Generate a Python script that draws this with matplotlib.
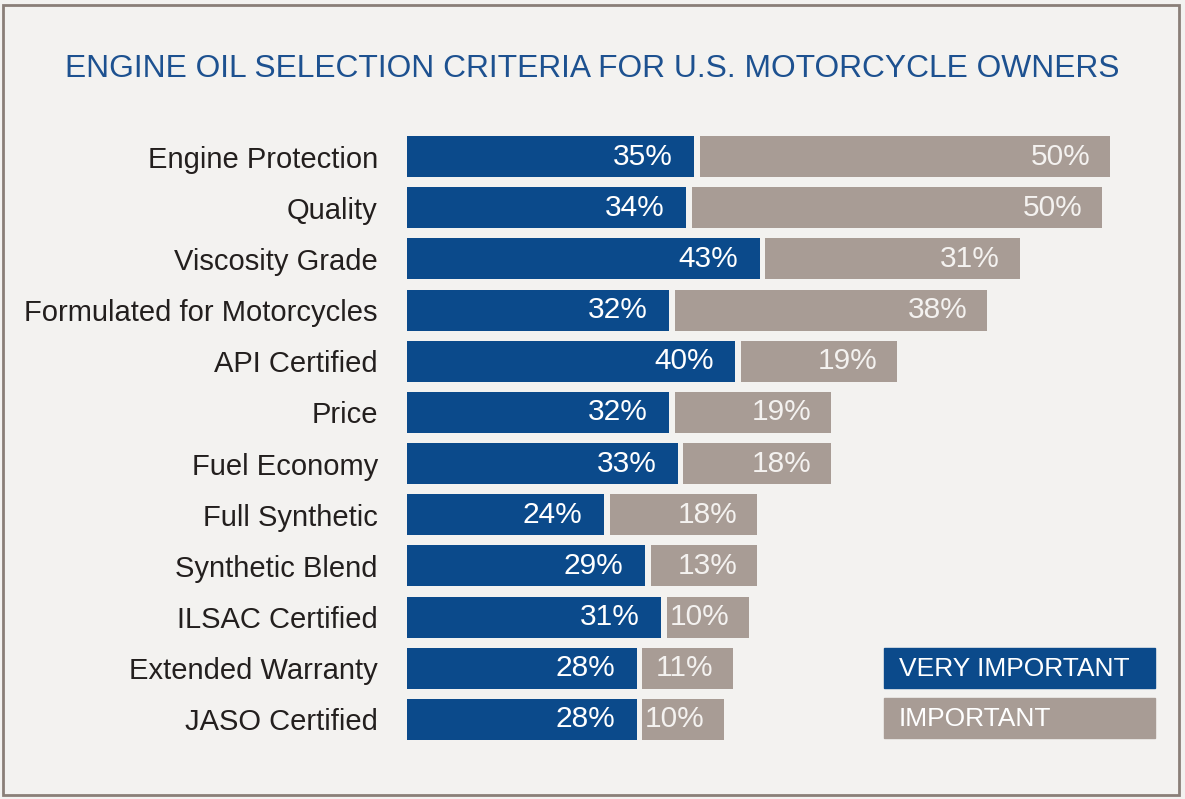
import numpy as np
import matplotlib.pyplot as plt
from matplotlib.patches import Rectangle

criteria = ["Engine Protection", "Quality", "Viscosity Grade",
            "Formulated for Motorcycles", "API Certified", "Price",
            "Fuel Economy", "Full Synthetic", "Synthetic Blend",
            "ILSAC Certified", "Extended Warranty", "JASO Certified"]
very_important = [35, 34, 43, 32, 40, 32, 33, 24, 29, 31, 28, 28]
important = [50, 50, 31, 38, 19, 19, 18, 18, 13, 10, 11, 10]

BLUE = "#0b4a8b"
GREY = "#a89c95"
BG = "#f3f2f0"
SANS = ["Liberation Sans", "DejaVu Sans"]

W, H = 1185, 799
fig = plt.figure(figsize=(W / 100, H / 100), dpi=100)
fig.patch.set_facecolor(BG)

# outer frame
fig.add_artist(Rectangle((3 / W, 4 / H), 1176 / W, 790 / H, transform=fig.transFigure,
                         fill=False, edgecolor="#8a7f78", linewidth=2))

fig.text(592 / W, 1 - 69 / H, "ENGINE OIL SELECTION CRITERIA FOR U.S. MOTORCYCLE OWNERS",
         ha="center", va="center", color="#1d5190", fontsize=22.9, family=SANS)

ax = fig.add_axes([407 / W, 1 - 745 / H, 703 / W, 614 / H])
ax.set_facecolor(BG)
gap = 0.7
y = np.arange(len(criteria))
vi = np.array(very_important)
im = np.array(important)

ax.barh(y, vi, height=0.8, color=BLUE)
ax.barh(y, im, left=vi + gap, height=0.8, color=GREY)

for yi, a, b in zip(y, vi, im):
    ax.text(a - 2.6, yi, f"{a}%", ha="right", va="center", color="white",
            fontsize=21.5, family=SANS)
    ax.text(a + gap + b - 2.4, yi, f"{b}%", ha="right", va="center", color="#f4f2f0",
            fontsize=21.5, family=SANS)

ax.set_xlim(0, 85 + gap)
ax.set_ylim(len(criteria) - 0.5, -0.5)
ax.set_yticks(y)
ax.set_yticklabels(criteria, fontsize=21, family=SANS, color="#231f1e")
ax.tick_params(axis="y", length=0, pad=21)
ax.set_xticks([])
for s in ax.spines.values():
    s.set_visible(False)

# legend boxes
for top, label, col in [(648, "VERY IMPORTANT", BLUE), (698, "IMPORTANT", GREY)]:
    fig.add_artist(Rectangle((884 / W, 1 - (top + 40) / H), 271 / W, 40 / H,
                             transform=fig.transFigure, color=col))
    fig.text(899 / W, 1 - (top + 21) / H, label, ha="left", va="center",
             color="white", fontsize=19, family=SANS)

fig.savefig("out.png", dpi=100, facecolor=BG)
